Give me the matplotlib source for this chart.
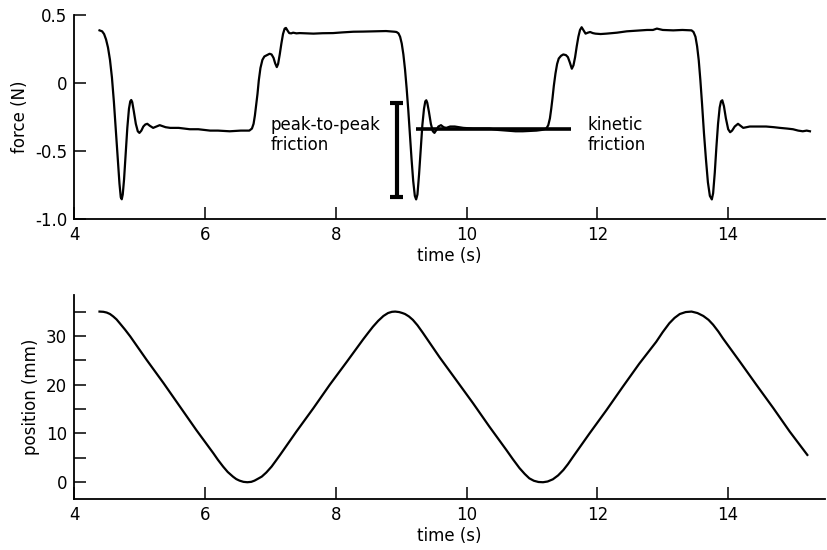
import matplotlib
matplotlib.use("Agg")
import matplotlib.pyplot as plt

plt.rcParams['font.family'] = ['DejaVu Sans']
plt.rcParams['axes.unicode_minus'] = False

# force trace (s, N)
force_t = [4.39, 4.43, 4.46, 4.49, 4.52, 4.55, 4.58, 4.61, 4.64, 4.67, 4.695, 4.715, 4.73,
           4.745, 4.765, 4.79, 4.815, 4.84, 4.86, 4.875, 4.89, 4.915, 4.945, 4.975, 5.00,
           5.03, 5.06, 5.09, 5.12, 5.16, 5.21, 5.26, 5.31, 5.40, 5.47, 5.60, 5.77, 5.90,
           6.08, 6.20, 6.38, 6.55, 6.68, 6.72, 6.745, 6.765, 6.785, 6.805, 6.825, 6.85,
           6.88, 6.91, 6.95, 6.99, 7.02, 7.05, 7.075, 7.10, 7.12, 7.145, 7.17, 7.195, 7.22,
           7.24, 7.265, 7.29, 7.32, 7.35, 7.40, 7.45, 7.55, 7.66, 7.80, 7.96, 8.10, 8.27,
           8.42, 8.57, 8.77, 8.90, 8.93, 8.96, 8.985, 9.01, 9.035, 9.06, 9.085, 9.11,
           9.135, 9.16, 9.185, 9.21, 9.23, 9.25, 9.275, 9.30, 9.325, 9.35, 9.37, 9.385,
           9.40, 9.425, 9.455, 9.485, 9.51, 9.54, 9.57, 9.61, 9.65, 9.69, 9.75, 9.82,
           9.95, 10.10, 10.22, 10.35, 10.48, 10.61, 10.75, 10.86, 10.97, 11.07, 11.15,
           11.22, 11.25, 11.275, 11.295, 11.315, 11.335, 11.36, 11.385, 11.41, 11.445,
           11.48, 11.52, 11.55, 11.58, 11.61, 11.635, 11.66, 11.685, 11.71, 11.735, 11.76,
           11.785, 11.82, 11.855, 11.89, 11.93, 11.97, 12.05, 12.14, 12.30, 12.45, 12.60,
           12.76, 12.85, 12.91, 13.00, 13.16, 13.30, 13.44, 13.47, 13.50, 13.525, 13.55,
           13.575, 13.60, 13.63, 13.66, 13.69, 13.72, 13.75, 13.77, 13.795, 13.82, 13.845,
           13.87, 13.89, 13.91, 13.935, 13.965, 14.00, 14.03, 14.06, 14.10, 14.15, 14.19,
           14.23, 14.28, 14.33, 14.45, 14.58, 14.70, 14.79, 14.90, 14.99, 15.07, 15.14,
           15.20, 15.25]
force_n = [0.387, 0.38, 0.36, 0.32, 0.26, 0.17, 0.04, -0.14, -0.35, -0.57, -0.74, -0.84, -0.855,
           -0.82, -0.71, -0.52, -0.33, -0.19, -0.135, -0.125, -0.14, -0.21, -0.30, -0.355, -0.367,
           -0.35, -0.32, -0.305, -0.30, -0.315, -0.33, -0.32, -0.31, -0.325, -0.33, -0.33, -0.34, -0.34,
           -0.35, -0.35, -0.355, -0.35, -0.35, -0.335, -0.30, -0.24, -0.16, -0.08, 0.02, 0.11,
           0.17, 0.195, 0.205, 0.215, 0.21, 0.185, 0.145, 0.117, 0.14, 0.21, 0.29, 0.36, 0.40,
           0.405, 0.385, 0.367, 0.365, 0.37, 0.365, 0.367, 0.365, 0.363, 0.366, 0.367, 0.372, 0.377,
           0.378, 0.38, 0.382, 0.377, 0.375, 0.365, 0.34, 0.29, 0.21, 0.10, -0.04, -0.20,
           -0.38, -0.56, -0.72, -0.83, -0.856, -0.82, -0.67, -0.49, -0.31, -0.19, -0.135, -0.127,
           -0.145, -0.21, -0.30, -0.355, -0.367, -0.345, -0.32, -0.31, -0.325, -0.33, -0.32, -0.32,
           -0.33, -0.335, -0.335, -0.335, -0.345, -0.35, -0.355, -0.355, -0.352, -0.35, -0.345,
           -0.335, -0.31, -0.26, -0.19, -0.11, -0.02, 0.07, 0.14, 0.18, 0.20,
           0.21, 0.205, 0.19, 0.15, 0.105, 0.13, 0.19, 0.27, 0.34, 0.39, 0.41,
           0.39, 0.363, 0.37, 0.375, 0.367, 0.363, 0.36, 0.363, 0.37, 0.38, 0.385,
           0.39, 0.39, 0.40, 0.39, 0.387, 0.39, 0.387, 0.375, 0.34, 0.27, 0.167,
           0.02, -0.15, -0.37, -0.56, -0.73, -0.83, -0.856, -0.81, -0.66, -0.47, -0.30,
           -0.18, -0.135, -0.127, -0.17, -0.26, -0.34, -0.362, -0.35, -0.32, -0.30, -0.315,
           -0.33, -0.325, -0.32, -0.32, -0.32, -0.325, -0.33, -0.335, -0.34, -0.35, -0.355,
           -0.35, -0.355]

# position trace (s, mm)
pos_t = [4.39, 4.45, 4.50, 4.55, 4.60, 4.65, 4.70, 4.78, 4.86, 5.11, 5.37, 5.62, 5.87, 6.13,
         6.20, 6.28, 6.35, 6.43, 6.48, 6.53, 6.59, 6.65, 6.71, 6.76, 6.81, 6.87, 6.94, 7.02,
         7.08, 7.15, 7.40, 7.66, 7.91, 8.17, 8.42, 8.50, 8.57, 8.65, 8.73, 8.80, 8.86, 8.91,
         8.97, 9.02, 9.06, 9.12, 9.18, 9.25, 9.33, 9.59, 9.84, 10.10, 10.35, 10.61, 10.71,
         10.81, 10.89, 10.96, 11.03, 11.10, 11.17, 11.24, 11.32, 11.40, 11.48, 11.55, 11.63,
         11.88, 12.14, 12.39, 12.64, 12.90, 13.00, 13.10, 13.18, 13.26, 13.35, 13.44, 13.53,
         13.62, 13.70, 13.77, 13.85, 13.92, 14.18, 14.43, 14.69, 14.94, 15.21]
pos_mm = [35.0, 34.95, 34.8, 34.5, 34.0, 33.4, 32.6, 31.3, 29.9, 25.1, 20.3, 15.5, 10.7, 5.95,
          4.6, 3.2, 2.1, 1.15, 0.65, 0.33, 0.08, 0.0, 0.08, 0.33, 0.7, 1.15, 2.0, 3.2,
          4.3, 5.6, 10.4, 15.2, 20.0, 24.7, 29.3, 30.7, 31.9, 33.1, 34.1, 34.7, 34.95, 35.0,
          34.9, 34.7, 34.5, 34.0, 33.3, 32.2, 30.7, 25.6, 21.0, 16.2, 11.4, 6.6, 4.7,
          2.9, 1.7, 0.8, 0.3, 0.05, 0.0, 0.15, 0.6, 1.4, 2.5, 3.7, 5.25,
          10.0, 14.8, 19.6, 24.3, 28.8, 30.8, 32.6, 33.7, 34.5, 34.9, 35.0, 34.7,
          34.1, 33.3, 32.3, 30.9, 29.5, 24.7, 20.0, 15.2, 10.4, 5.6]

x_ticks = [4, 6, 8, 10, 12, 14]
force_ticks = [0.5, 0, -0.5, -1.0]
force_tick_labels = ["0.5", "0", "-0.5", "-1.0"]
pos_ticks = [0, 10, 20, 30]
pos_minor = [5, 15, 25, 35]

# annotations
p2p_x = 8.93
p2p_lo, p2p_hi = -0.84, -0.15
kin_x0, kin_x1, kin_y = 9.23, 11.6, -0.34

W, H = 827, 550
fig = plt.figure(figsize=(W / 100, H / 100), dpi=100)
ax1 = fig.add_axes([74 / W, 1 - 219 / H, 751 / W, 204 / H])
ax2 = fig.add_axes([74 / W, 1 - 499.3 / H, 751 / W, 204.3 / H])

for ax in (ax1, ax2):
    for s in ("top", "right"):
        ax.spines[s].set_visible(False)
    for s in ("left", "bottom"):
        ax.spines[s].set_linewidth(1.3)
    ax.tick_params(which="both", direction="in", length=8.6, width=1.1,
                   labelsize=12, pad=5, colors="black")
    ax.set_xlim(4, 15.48)
    ax.set_xticks(x_ticks)
    ax.set_xlabel("time (s)", fontsize=12, labelpad=2)

ax1.plot(force_t, force_n, color="black", lw=1.6, solid_joinstyle="round")
ax1.set_ylim(-1.0, 0.5)
ax1.set_yticks(force_ticks)
ax1.set_yticklabels(force_tick_labels)
ax1.set_ylabel("force (N)", fontsize=12, labelpad=4)

# peak-to-peak bar
ax1.plot([p2p_x, p2p_x], [p2p_lo, p2p_hi], color="black", lw=3, solid_capstyle="butt")
ax1.plot([p2p_x - 0.1, p2p_x + 0.1], [p2p_lo, p2p_lo], color="black", lw=3, solid_capstyle="butt")
ax1.plot([p2p_x - 0.1, p2p_x + 0.1], [p2p_hi, p2p_hi], color="black", lw=3, solid_capstyle="butt")
# kinetic line
ax1.plot([kin_x0, kin_x1], [kin_y, kin_y], color="black", lw=2.6, solid_capstyle="butt")

ax1.text(7.0, -0.385, "peak-to-peak\nfriction", fontsize=12, ha="left", va="center",
         linespacing=1.15)
ax1.text(11.85, -0.385, "kinetic\nfriction", fontsize=12, ha="left", va="center",
         linespacing=1.15)

ax2.plot(pos_t, pos_mm, color="black", lw=1.6, solid_joinstyle="round")
ax2.set_ylim(-3.5, 38.4)
ax2.set_yticks(pos_ticks)
ax2.set_yticks(pos_minor, minor=True)
ax2.set_ylabel("position (mm)", fontsize=12, labelpad=4)

fig.savefig("out.png", dpi=100)
